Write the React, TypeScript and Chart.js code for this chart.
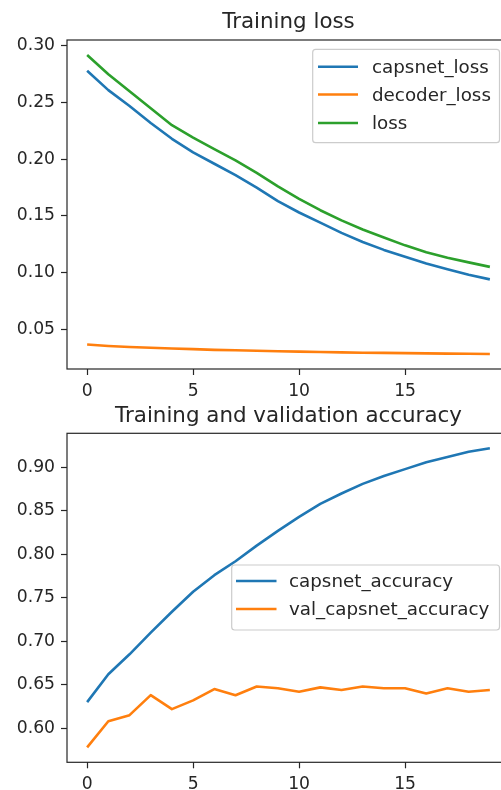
import React, { useEffect, useRef } from "react";
import { Chart, registerables } from "chart.js";

Chart.register(...registerables);

// ---- data ----
const epochs = [0, 1, 2, 3, 4, 5, 6, 7, 8, 9, 10, 11, 12, 13, 14, 15, 16, 17, 18, 19];
const capsnetLoss = [0.278, 0.261, 0.247, 0.232, 0.218, 0.206, 0.196, 0.186, 0.175, 0.163, 0.153, 0.144, 0.135, 0.127, 0.12, 0.114, 0.108, 0.103, 0.098, 0.094];
const decoderLoss = [0.0365, 0.0352, 0.0343, 0.0336, 0.033, 0.0324, 0.0318, 0.0314, 0.031, 0.0306, 0.0302, 0.0299, 0.0296, 0.0293, 0.0291, 0.0289, 0.0287, 0.0285, 0.0283, 0.0281];
const totalLoss = [0.292, 0.275, 0.26, 0.245, 0.23, 0.219, 0.209, 0.199, 0.188, 0.176, 0.165, 0.155, 0.146, 0.138, 0.131, 0.124, 0.118, 0.113, 0.109, 0.105];
const capsnetAccuracy = [0.63, 0.662, 0.685, 0.71, 0.734, 0.757, 0.776, 0.792, 0.81, 0.827, 0.843, 0.858, 0.87, 0.881, 0.89, 0.898, 0.906, 0.912, 0.918, 0.922];
const valCapsnetAccuracy = [0.578, 0.608, 0.615, 0.638, 0.622, 0.632, 0.645, 0.638, 0.648, 0.646, 0.642, 0.647, 0.644, 0.648, 0.646, 0.646, 0.64, 0.646, 0.642, 0.644];

const xTicks = [0, 5, 10, 15];
const lossYTicks = [0.05, 0.1, 0.15, 0.2, 0.25, 0.3];
const accYTicks = [0.6, 0.65, 0.7, 0.75, 0.8, 0.85, 0.9];

const lossTitle = "Training loss";
const accTitle = "Training and validation accuracy";
const lossLabels = ["capsnet_loss", "decoder_loss", "loss"];
const accLabels = ["capsnet_accuracy", "val_capsnet_accuracy"];

// ---- style ----
const BLUE = "#1f77b4";
const ORANGE = "#ff7f0e";
const GREEN = "#2ca02c";
const FONT = "'DejaVu Sans', sans-serif";
const TEXT = "#262626";
const CANVAS_W = 530;

function pts(ys: number[]) {
  return ys.map((y, i) => ({ x: epochs[i], y }));
}

function margins(series: number[][]) {
  const all = series.flat();
  const lo = Math.min(...all);
  const hi = Math.max(...all);
  const m = (hi - lo) * 0.05;
  return { min: lo - m, max: hi + m };
}

const mplDecor = {
  id: "mplDecor",
  afterDatasetsDraw(chart: any, _args: any, opts: any) {
    const ctx = chart.ctx;
    const a = chart.chartArea;
    ctx.save();
    ctx.strokeStyle = "#262626";
    ctx.lineWidth = 1.2;
    ctx.strokeRect(a.left, a.top, a.right - a.left, a.bottom - a.top);
    const L = opts && opts.legend;
    if (L) {
      const r = 3;
      const { x0, y0, x1, y1 } = L;
      ctx.beginPath();
      ctx.moveTo(x0 + r, y0);
      ctx.lineTo(x1 - r, y0);
      ctx.quadraticCurveTo(x1, y0, x1, y0 + r);
      ctx.lineTo(x1, y1 - r);
      ctx.quadraticCurveTo(x1, y1, x1 - r, y1);
      ctx.lineTo(x0 + r, y1);
      ctx.quadraticCurveTo(x0, y1, x0, y1 - r);
      ctx.lineTo(x0, y0 + r);
      ctx.quadraticCurveTo(x0, y0, x0 + r, y0);
      ctx.closePath();
      ctx.fillStyle = "rgba(255,255,255,0.8)";
      ctx.fill();
      ctx.strokeStyle = "#cccccc";
      ctx.lineWidth = 1.2;
      ctx.stroke();
      chart.data.datasets.forEach((ds: any, i: number) => {
        const y = L.rows[i];
        ctx.beginPath();
        ctx.strokeStyle = ds.borderColor;
        ctx.lineWidth = 2.6;
        ctx.lineCap = "butt";
        ctx.moveTo(L.hx0, y);
        ctx.lineTo(L.hx1, y);
        ctx.stroke();
        ctx.fillStyle = TEXT;
        ctx.font = `18.3px ${FONT}`;
        ctx.textAlign = "left";
        ctx.textBaseline = "alphabetic";
        ctx.fillText(ds.label, L.tx, y + 6.3);
      });
    }
    ctx.restore();
  },
};

type PanelProps = {
  top: number;
  height: number;
  plotTop: number;
  plotBottom: number;
  titleMid: number;
  title: string;
  datasets: any[];
  yTicks: number[];
  yRange: { min: number; max: number };
  legend: any;
};

function Panel(p: PanelProps) {
  const ref = useRef<HTMLCanvasElement | null>(null);
  useEffect(() => {
    if (!ref.current) return;
    const padTop = p.titleMid - 21.4 * 0.6;
    const padBottom = p.plotTop - 21.4 * 1.2 - padTop;
    const chart = new Chart(ref.current, {
      type: "line",
      data: { datasets: p.datasets },
      plugins: [mplDecor],
      options: {
        animation: false,
        responsive: false,
        devicePixelRatio: 1,
        layout: { padding: { top: 0, left: 0, right: CANVAS_W - 510, bottom: 0 } },
        elements: { point: { radius: 0 }, line: { tension: 0, borderWidth: 2.6, borderJoinStyle: "round" } },
        plugins: {
          legend: { display: false },
          tooltip: { enabled: false },
          title: {
            display: true,
            text: p.title,
            fullSize: false,
            color: TEXT,
            font: { family: FONT, size: 21.4, weight: "normal", lineHeight: 1.2 },
            padding: { top: padTop, bottom: padBottom },
          },
          mplDecor: { legend: p.legend },
        } as any,
        scales: {
          x: {
            type: "linear",
            min: -0.95,
            max: 19.95,
            afterBuildTicks: (s: any) => {
              s.ticks = xTicks.map((v) => ({ value: v }));
            },
            afterFit: (s: any) => {
              s.height = p.height - p.plotBottom;
            },
            grid: { drawOnChartArea: false, tickLength: 6, tickColor: "#262626", tickWidth: 1.2 },
            border: { display: false },
            ticks: {
              color: TEXT,
              padding: 6,
              maxRotation: 0,
              font: { family: FONT, size: 17.2 },
              callback: (v: any) => String(v),
            },
          },
          y: {
            type: "linear",
            min: p.yRange.min,
            max: p.yRange.max,
            afterBuildTicks: (s: any) => {
              s.ticks = p.yTicks.map((v) => ({ value: v }));
            },
            afterFit: (s: any) => {
              s.width = 67;
            },
            grid: { drawOnChartArea: false, tickLength: 6, tickColor: "#262626", tickWidth: 1.2 },
            border: { display: false },
            ticks: {
              color: TEXT,
              padding: 6,
              font: { family: FONT, size: 17.2 },
              callback: (v: any) => Number(v).toFixed(2),
            },
          },
        },
      },
    } as any);
    return () => chart.destroy();
  }, []);
  return (
    <canvas
      ref={ref}
      width={CANVAS_W}
      height={p.height}
      style={{ position: "absolute", left: 0, top: p.top, width: CANVAS_W, height: p.height }}
    />
  );
}

export default function App() {
  const lossDatasets = [
    { label: lossLabels[0], data: pts(capsnetLoss), borderColor: BLUE, backgroundColor: BLUE },
    { label: lossLabels[1], data: pts(decoderLoss), borderColor: ORANGE, backgroundColor: ORANGE },
    { label: lossLabels[2], data: pts(totalLoss), borderColor: GREEN, backgroundColor: GREEN },
  ];
  const accDatasets = [
    { label: accLabels[0], data: pts(capsnetAccuracy), borderColor: BLUE, backgroundColor: BLUE },
    { label: accLabels[1], data: pts(valCapsnetAccuracy), borderColor: ORANGE, backgroundColor: ORANGE },
  ];
  return (
    <div
      style={{
        position: "fixed",
        left: 0,
        top: 0,
        width: 501,
        height: 790,
        overflow: "hidden",
        background: "#ffffff",
      }}
    >
      <Panel
        top={0}
        height={402}
        plotTop={40}
        plotBottom={369}
        titleMid={22.1}
        title={lossTitle}
        datasets={lossDatasets}
        yTicks={lossYTicks}
        yRange={margins([capsnetLoss, decoderLoss, totalLoss])}
        legend={{ x0: 312.7, y0: 49.3, x1: 499.5, y1: 142.7, rows: [66.7, 94.5, 123], hx0: 318, hx1: 358, tx: 372 }}
      />
      <Panel
        top={393}
        height={397}
        plotTop={40.3}
        plotBottom={369.3}
        titleMid={23.5}
        title={accTitle}
        datasets={accDatasets}
        yTicks={accYTicks}
        yRange={margins([capsnetAccuracy, valCapsnetAccuracy])}
        legend={{ x0: 231.7, y0: 172, x1: 499.5, y1: 237, rows: [188, 216], hx0: 236, hx1: 276.5, tx: 289 }}
      />
    </div>
  );
}
